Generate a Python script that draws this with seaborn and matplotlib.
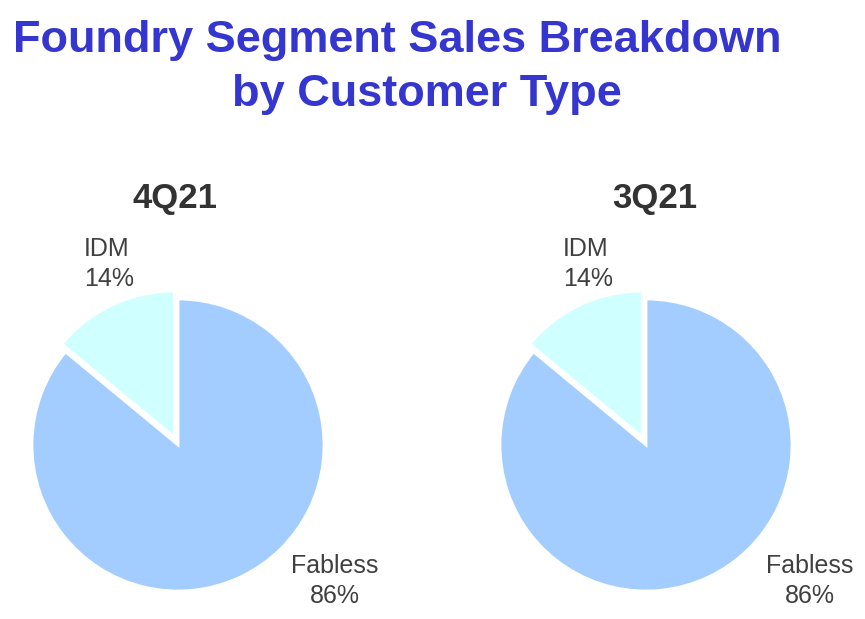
import matplotlib
matplotlib.use("Agg")
import matplotlib.pyplot as plt
import seaborn as sns

#%% Data
quarters = ["4Q21", "3Q21"]
segments = ["Fabless", "IDM"]
shares = {"4Q21": [86, 14], "3Q21": [86, 14]}
colors = ["#A3CDFF", "#D0FFFF"]

#%% Style
sns.set_theme(style="white")
plt.rcParams['font.family'] = ['Liberation Sans', 'DejaVu Sans']

W, H = 865, 619
R = 146  # pie radius in pixels
fig = plt.figure(figsize=(W / 100, H / 100), dpi=100)

title_col = "#3535CF"
fig.text(397 / W, 1 - 52 / H, "Foundry Segment Sales Breakdown", ha="center", va="baseline",
         fontsize=32.5, fontweight="bold", color=title_col)
fig.text(427 / W, 1 - 106 / H, "by Customer Type", ha="center", va="baseline",
         fontsize=32.5, fontweight="bold", color=title_col)

# pixel centres of each pie, axes spans, label anchors (pixels)
layout = {
    "4Q21": dict(cx=178, cy=445, x0=0, x1=432, title_x=175, idm_x=84, fab_x=335),
    "3Q21": dict(cx=646, cy=445, x0=432, x1=865, title_x=655, idm_x=563, fab_x=810),
}
label_col = "#404040"

for q in quarters:
    L = layout[q]
    ax = fig.add_axes([L["x0"] / W, 0, (L["x1"] - L["x0"]) / W, 1])
    ax.pie(shares[q], colors=colors, startangle=90, counterclock=False,
           explode=[0, 0.06], radius=1,
           wedgeprops=dict(edgecolor="white", linewidth=2))
    ax.set_aspect("auto")
    ax.set_xlim((L["x0"] - L["cx"]) / R, (L["x1"] - L["cx"]) / R)
    ax.set_ylim(-(H - L["cy"]) / R, L["cy"] / R)
    ax.axis("off")

    fig.text(L["title_x"] / W, 1 - 208 / H, q, ha="center", va="baseline",
             fontsize=25, fontweight="bold", color="#333333")

    fab, idm = shares[q]
    # IDM label (left aligned)
    fig.text(L["idm_x"] / W, 1 - 256 / H, segments[1], ha="left", va="baseline",
             fontsize=18, color=label_col)
    fig.text(L["idm_x"] / W, 1 - 286 / H, f"{idm}%", ha="left", va="baseline",
             fontsize=18, color=label_col)
    # Fabless label (centred)
    fig.text(L["fab_x"] / W, 1 - 573 / H, segments[0], ha="center", va="baseline",
             fontsize=18, color=label_col)
    fig.text(L["fab_x"] / W, 1 - 603 / H, f"{fab}%", ha="center", va="baseline",
             fontsize=18, color=label_col)

fig.savefig("out.png", dpi=100, facecolor="white")
